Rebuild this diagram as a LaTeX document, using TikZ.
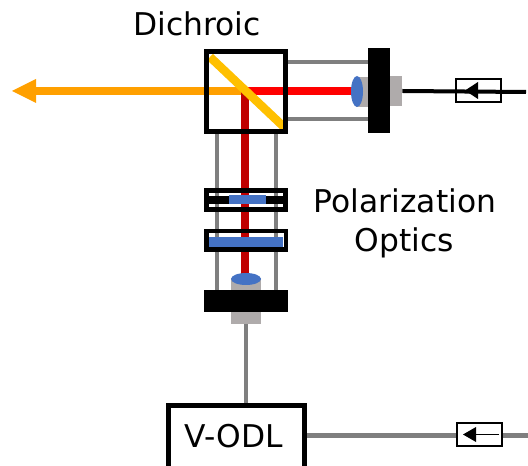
\documentclass[tikz,border=0pt]{standalone}
\usepackage{fontspec}
\usetikzlibrary{shapes.geometric}
\setmainfont{DejaVu Sans}
\def\px{0.75pt}
\definecolor{rodgray}{HTML}{7F7F7F}
\definecolor{mountgray}{HTML}{AFABAB}
\definecolor{lensblue}{HTML}{4472C4}
\definecolor{beamred}{HTML}{FF0000}
\definecolor{beamdark}{HTML}{C00000}
\definecolor{beamorange}{HTML}{FFA000}
\definecolor{mirror}{HTML}{FFC000}
\tikzset{
  block/.style={rectangle,inner sep=0pt,minimum width=#1},
  frame/.style={draw=black,fill=white,line width=5.5*\px},
  thinframe/.style={draw=black,line width=2*\px},
  solidblack/.style={fill=black,draw=none},
  mount/.style={fill=mountgray,draw=none},
  glass/.style={fill=lensblue,draw=none},
  rod/.style={draw=rodgray,line width=4.5*\px},
  label/.style={font=\fontsize{23.5pt}{28pt}\selectfont,inner sep=0pt,text=black,anchor=base}
}
\begin{document}
\begin{tikzpicture}[x=0.75pt,y=-0.75pt]
\useasboundingbox (0,0) rectangle (528,466);
% solid parts that connectors attach to
\node[block=22*\px,minimum height=85*\px,solidblack] (mountR) at (379,90.5) {};
\node[block=84*\px,minimum height=22*\px,solidblack] (mountB) at (246,301) {};
\node[block=79*\px,minimum height=80*\px,frame] (dich) at (246,91.5) {};
% rods
\draw[rod] (dich.east |- 0,62) -- (mountR.west |- 0,62);
\draw[rod] (dich.east |- 0,119) -- (mountR.west |- 0,119);
\draw[rod] (217,134) -- (217,0 |- mountB.north);
\draw[rod] (276,134) -- (276,0 |- mountB.north);
% mounts
\node[block=12*\px,minimum height=30*\px,mount] (cylR) at (362,92) {};
\node[block=12*\px,minimum height=30*\px,mount] (backR) at (396,91) {};
\node[block=30*\px,minimum height=12*\px,mount] (cylB) at (246,284.5) {};
\node[block=30*\px,minimum height=12*\px,mount] (backB) at (246,318) {};
% beams
\coordinate (split) at (245,91);
\coordinate (headback) at (36,91);
\draw[beamorange,line width=7.5*\px] (split) -- (headback);
\fill[beamorange] (12,91) -- (36,79) -- (36,103) -- cycle;
\draw[beamdark,line width=8*\px] (split) -- (245,284);
\draw[beamred,line width=7.5*\px] (split) -- (357,91);
\draw[mirror,line width=8.5*\px] (210,57) -- (285,128);
\node[block=79*\px,minimum height=80*\px,draw=black,line width=5.5*\px] (dichline) at (246,91.5) {};
% lenses
\node[ellipse,inner sep=0pt,minimum width=12*\px,minimum height=31*\px,glass] (lensR) at (357,91.5) {};
\node[ellipse,inner sep=0pt,minimum width=30*\px,minimum height=12*\px,glass] (lensB) at (246,279) {};
% polarization plates
\draw[black,line width=5*\px] (206.5,190.5) rectangle (285.5,209.5);
\fill[black] (209,196) rectangle (283,204);
\node[block=37*\px,minimum height=9*\px,glass] (plateA) at (247.5,200) {};
\node[block=79.5*\px,minimum height=18.5*\px,draw=black,line width=4.5*\px] (frameB) at (246,240.5) {};
\node[block=74*\px,minimum height=9.5*\px,glass] (plateB) at (246,242) {};
% fibre lines and isolators
\node[block=45*\px,minimum height=23*\px,thinframe] (isoA) at (478.5,90.5) {};
\draw[black,line width=4*\px] (backR.east) -- (526,92);
\fill[black] (465,90.5) -- (478,82) -- (478,99) -- cycle;
\node[block=136*\px,minimum height=64*\px,frame,anchor=north west,line width=5*\px] (vodl) at (166,403) {};
\draw[rod] (backB.south) -- (vodl.north -| backB.south);
\draw[rodgray,line width=5*\px] (vodl.east |- 0,435) -- (528,435);
\node[block=45*\px,minimum height=23*\px,thinframe,fill=white] (isoB) at (479.5,434.5) {};
\draw[black,line width=1*\px] (499,434.5) -- (470,434.5);
\fill[black] (463,434.5) -- (476,427) -- (476,442) -- cycle;
% labels
\node[label] (t1) at (197,36) {Dichroic};
\node[label] (t2) at (405,213) {Polarization};
\node[label] (t3) at (404,252) {Optics};
\node[label] (t4) at (234,447) {V-ODL};
\end{tikzpicture}
\end{document}
